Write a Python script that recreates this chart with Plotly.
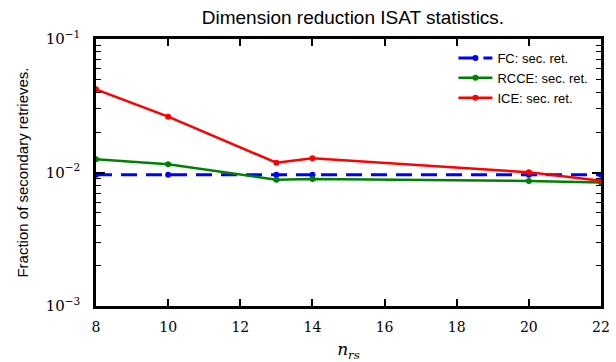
import plotly.graph_objects as go

# Number of reduced species and the fraction of secondary retrieves per method
n_rs = [8, 10, 13, 14, 20, 22]
fc_sec_ret = [0.0096, 0.0096, 0.0096, 0.0096, 0.0096, 0.0096]
rcce_sec_ret = [0.01256, 0.01152, 0.00883, 0.00894, 0.00864, 0.0084]
ice_sec_ret = [0.042, 0.0262, 0.01184, 0.01277, 0.01004, 0.00868]

x_ticks = [8, 10, 12, 14, 16, 18, 20, 22]
y_ticks = [1e-3, 1e-2, 1e-1]
y_ticktext = ["10<sup>\u22123</sup>", "10<sup>\u22122</sup>", "10<sup>\u22121</sup>"]
y_minor = [m * 10 ** e for e in (-3, -2) for m in range(2, 10)]

fig = go.Figure()
fig.add_trace(go.Scatter(
    x=n_rs, y=fc_sec_ret, name="FC: sec. ret.", mode="lines+markers",
    line=dict(color="#0000ff", width=3, dash="16px,9px"),
    marker=dict(size=6, color="#0000ff")))
fig.add_trace(go.Scatter(
    x=n_rs, y=rcce_sec_ret, name="RCCE: sec. ret.", mode="lines+markers",
    line=dict(color="#008000", width=2.5),
    marker=dict(size=6, color="#008000")))
fig.add_trace(go.Scatter(
    x=n_rs, y=ice_sec_ret, name="ICE: sec. ret.", mode="lines+markers",
    line=dict(color="#ff0000", width=2.5),
    marker=dict(size=6, color="#ff0000")))

serif = "DejaVu Serif"
sans = "Liberation Sans"

fig.update_layout(
    width=616, height=362,
    margin=dict(l=96, r=6, t=39, b=56),
    plot_bgcolor="white", paper_bgcolor="white",
    title=dict(text="Dimension reduction ISAT statistics.",
               x=0.573, xanchor="center", y=0.952, yanchor="middle",
               font=dict(family=sans, size=19, color="black")),
    showlegend=True,
    legend=dict(x=0.985, xanchor="right", y=0.985, yanchor="top",
                bgcolor="rgba(0,0,0,0)", font=dict(family=sans, size=13, color="black"),
                itemwidth=34, tracegroupgap=2),
    xaxis=dict(range=[8, 22], tickvals=x_ticks, ticktext=[str(v) for v in x_ticks],
               ticks="inside", ticklen=7, tickwidth=1.5, tickcolor="black",
               ticklabelstandoff=6,
               showline=True, linewidth=2.5, linecolor="black", mirror="ticks",
               showgrid=False, zeroline=False,
               tickfont=dict(family=serif, size=14, color="black"),
               title=dict(text="<i>n</i><sub><i>rs</i></sub>", standoff=10,
                          font=dict(family=serif, size=17, color="black"))),
    yaxis=dict(type="log", range=[-3, -1], tickmode="array", tickvals=y_ticks,
               ticktext=y_ticktext,
               ticks="inside", ticklen=9, tickwidth=1.5, tickcolor="black",
               ticklabelstandoff=10,
               minor=dict(tickmode="array", tickvals=y_minor, ticks="inside",
                          ticklen=5, tickwidth=1.2, tickcolor="black"),
               showline=True, linewidth=2.5, linecolor="black", mirror="ticks",
               showgrid=False, zeroline=False,
               tickfont=dict(family=serif, size=15, color="black"),
               title=dict(text="Fraction of secondary retrieves.", standoff=14,
                          font=dict(family=sans, size=15, color="black"))),
)

fig.write_html("out.html")
